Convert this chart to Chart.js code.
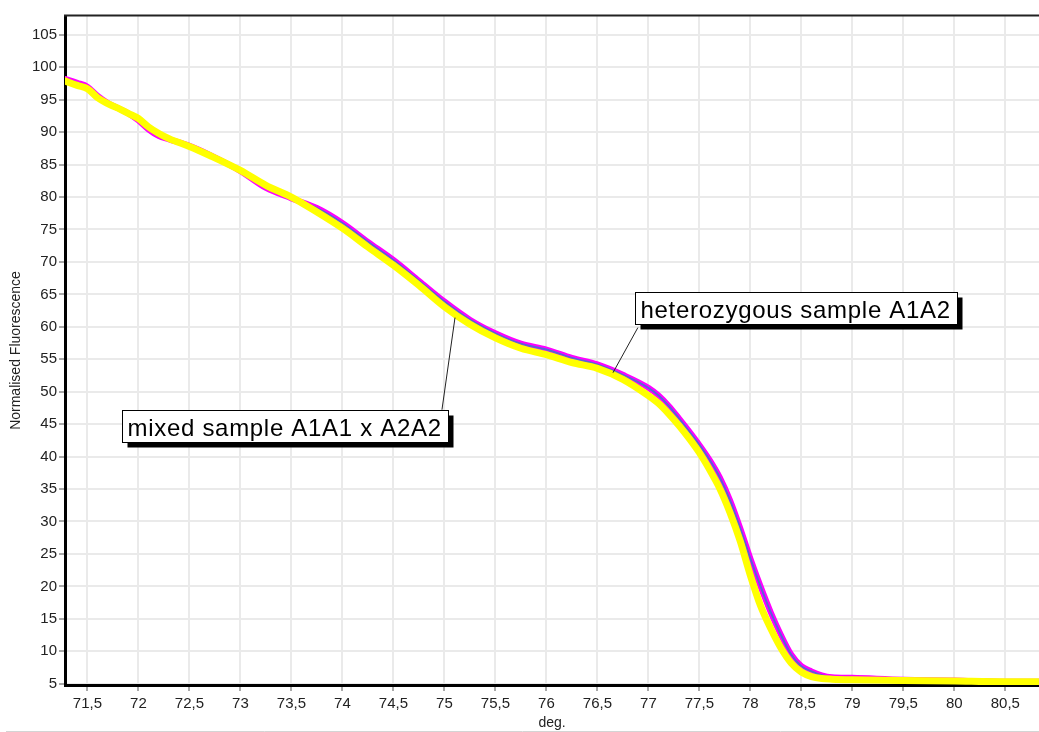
<!DOCTYPE html>
<html>
<head>
<meta charset="utf-8">
<title>Normalised melt curves</title>
<script src="https://cdn.jsdelivr.net/npm/chart.js@4/dist/chart.umd.min.js"></script>
<style>
  html, body { margin: 0; padding: 0; background: #fff; }
  #wrap { width: 1039px; height: 732px; position: relative; }
</style>
</head>
<body>
<div id="wrap"><canvas id="meltChart"></canvas></div>
<script>
// temperatures (deg.)
const temps = [71.28, 71.4, 71.5, 71.6, 71.7, 71.8, 71.9, 72.0, 72.1, 72.2,
  72.3, 72.5, 72.7, 73.0, 73.25, 73.5, 73.75, 74.0, 74.25, 74.5,
  74.75, 75.0, 75.25, 75.5, 75.75, 76.0, 76.25, 76.5, 76.75, 77.0,
  77.1, 77.2, 77.3, 77.4, 77.5, 77.6, 77.7, 77.8, 77.9, 78.0,
  78.1, 78.2, 78.3, 78.4, 78.5, 78.6, 78.7, 78.8, 79.0, 79.5,
  80.0, 80.5, 80.83];

// mixed sample A1A1 x A2A2 (yellow)
const mixedSample = [97.9, 97.2, 96.7, 95.3, 94.4, 93.7, 92.9, 92.1, 90.8, 89.8,
  89.0, 87.8, 86.4, 84.1, 81.8, 80.0, 77.7, 75.2, 72.3, 69.5,
  66.4, 63.1, 60.4, 58.3, 56.7, 55.7, 54.5, 53.6, 51.9, 49.4,
  48.2, 46.6, 44.8, 42.8, 40.6, 38.0, 35.1, 31.4, 27.0, 21.7,
  17.0, 13.5, 10.5, 8.2, 6.8, 6.1, 5.8, 5.7, 5.6, 5.5,
  5.4, 5.3, 5.3];

// heterozygous sample A1A2 (magenta)
const hetSample = [98.2, 97.6, 97.0, 95.6, 94.5, 93.7, 92.9, 91.8, 90.4, 89.4,
  88.9, 87.9, 86.5, 84.0, 81.4, 79.8, 78.3, 76.0, 73.1, 70.3,
  67.1, 63.9, 61.1, 59.0, 57.4, 56.5, 55.2, 54.2, 52.6, 50.6,
  49.4, 47.8, 45.9, 43.9, 41.8, 39.5, 36.8, 33.3, 29.0, 24.3,
  20.0, 16.0, 12.5, 9.5, 7.7, 6.9, 6.3, 6.0, 5.9, 5.6,
  5.5, 5.3, 5.3];

const xMin = 71.28, xMax = 80.83, xStep = 0.5;
const yMin = 4.8, yMax = 107.9, yStep = 5;

// callout labels, anchored in data units
const notes = [
  { text: "heterozygous sample A1A2", boxX: 76.868, boxY: 65.32, from: [76.897, 59.88], to: [76.653, 52.93] },
  { text: "mixed sample A1A1 x A2A2", boxX: 71.836, boxY: 47.18, from: [74.976, 47.22], to: [75.104, 61.42] }
];

const FONT = '"Liberation Sans", Arial, sans-serif';
const pts = vals => temps.map((t, i) => ({ x: t, y: vals[i] }));

const overlay = {
  id: 'overlay',
  afterDatasetsDraw(chart) {
    const { ctx, scales: { x, y } } = chart;
    ctx.save();
    ctx.font = '24px ' + FONT;
    ctx.letterSpacing = '0.7px';
    for (const n of notes) {
      ctx.strokeStyle = '#222';
      ctx.lineWidth = 1;
      ctx.beginPath();
      ctx.moveTo(x.getPixelForValue(n.from[0]), y.getPixelForValue(n.from[1]));
      ctx.lineTo(x.getPixelForValue(n.to[0]), y.getPixelForValue(n.to[1]));
      ctx.stroke();

      const bx = Math.round(x.getPixelForValue(n.boxX)) + 0.5;
      const by = Math.round(y.getPixelForValue(n.boxY)) + 0.5;
      const w = Math.round(ctx.measureText(n.text).width) + 12;
      const h = 32;
      ctx.fillStyle = '#000';
      ctx.fillRect(bx + 5, by + 5, w, h);
      ctx.fillStyle = '#fff';
      ctx.fillRect(bx, by, w, h);
      ctx.strokeStyle = '#000';
      ctx.strokeRect(bx, by, w, h);
      ctx.fillStyle = '#000';
      ctx.textBaseline = 'alphabetic';
      ctx.fillText(n.text, bx + 5, by + h - 7);
    }
    ctx.restore();
  },
  afterDraw(chart) {
    const { ctx, chartArea } = chart;
    ctx.save();
    // top frame line
    ctx.strokeStyle = '#222';
    ctx.lineWidth = 2;
    ctx.beginPath();
    ctx.moveTo(chartArea.left - 1, chartArea.top - 0.5);
    ctx.lineTo(chart.width, chartArea.top - 0.5);
    ctx.stroke();
    // window edge at the bottom
    ctx.strokeStyle = '#d4d4d4';
    ctx.lineWidth = 1;
    ctx.beginPath();
    ctx.moveTo(6, chart.height - 0.5);
    ctx.lineTo(chart.width, chart.height - 0.5);
    ctx.stroke();
    ctx.restore();
  }
};

new Chart(document.getElementById('meltChart'), {
  type: 'line',
  data: {
    datasets: [
      { label: 'mixed sample A1A1 x A2A2', data: pts(mixedSample), borderColor: '#ffff00', borderWidth: 7, order: 0 },
      { label: 'heterozygous core', data: pts(hetSample), borderColor: '#5a62d8', borderWidth: 2, order: 1 },
      { label: 'heterozygous sample A1A2', data: pts(hetSample), borderColor: '#ff00ff', borderWidth: 6, order: 2 }
    ]
  },
  options: {
    responsive: true,
    maintainAspectRatio: false,
    animation: false,
    elements: {
      point: { radius: 0 },
      line: { cubicInterpolationMode: 'monotone', borderCapStyle: 'round', borderJoinStyle: 'round' }
    },
    layout: { padding: { top: 16, right: 0, bottom: 0, left: 0 } },
    plugins: { legend: { display: false }, tooltip: { enabled: false } },
    scales: {
      x: {
        type: 'linear',
        min: xMin,
        max: xMax,
        afterFit: s => { s.height = 47; },
        border: { color: '#000', width: 3 },
        grid: { color: '#eaeaea', lineWidth: 2, tickLength: 6, tickColor: '#555', tickWidth: 1 },
        ticks: {
          stepSize: xStep,
          includeBounds: false,
          autoSkip: false,
          maxRotation: 0,
          padding: 4,
          color: '#222',
          font: { family: FONT, size: 15 },
          callback: v => String(Math.round(v * 10) / 10).replace('.', ',')
        },
        title: { display: true, text: 'deg.', color: '#222', font: { family: FONT, size: 14 }, padding: { top: 0, bottom: 0 } }
      },
      y: {
        type: 'linear',
        min: yMin,
        max: yMax,
        afterFit: s => { s.width = 65; },
        border: { color: '#000', width: 3 },
        grid: { color: '#eaeaea', lineWidth: 2, tickLength: 6, tickColor: '#555', tickWidth: 1 },
        ticks: {
          stepSize: yStep,
          includeBounds: false,
          autoSkip: false,
          padding: 2,
          color: '#222',
          font: { family: FONT, size: 15 }
        },
        title: { display: true, text: 'Normalised Fluorescence', color: '#222', font: { family: FONT, size: 14 }, padding: { top: 8, bottom: 0 } }
      }
    }
  },
  plugins: [overlay]
});
</script>
</body>
</html>
